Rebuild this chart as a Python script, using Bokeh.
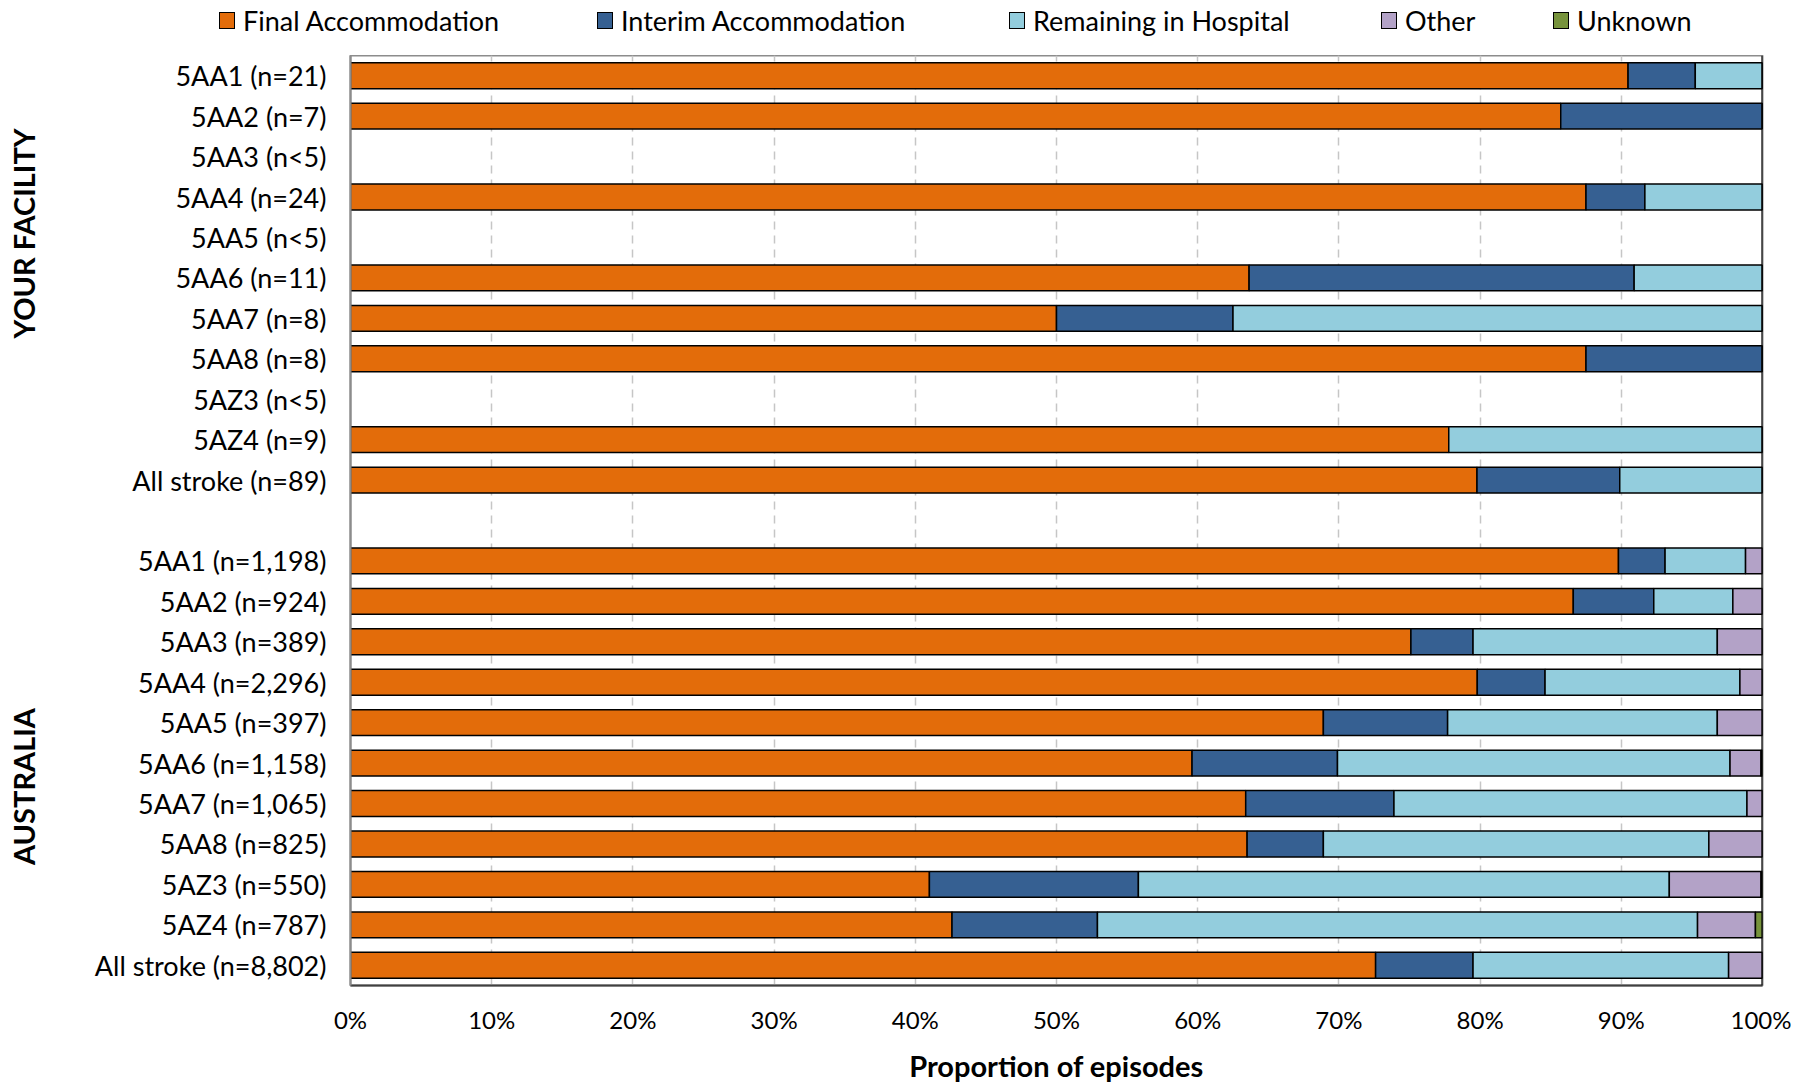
import math
from bokeh.plotting import figure
from bokeh.layouts import column
from bokeh.models import ColumnDataSource, Range1d, FixedTicker, Span, LinearAxis, Div
from bokeh.embed import file_html
from bokeh.resources import INLINE

NaN = float("nan")

# Rows, top to bottom (" " row is the gap between groups)
categories = [
    "5AA1 (n=21)", "5AA2 (n=7)", "5AA3 (n<5)", "5AA4 (n=24)", "5AA5 (n<5)",
    "5AA6 (n=11)", "5AA7 (n=8)", "5AA8 (n=8)", "5AZ3 (n<5)", "5AZ4 (n=9)",
    "All stroke (n=89)",
    " ",
    "5AA1 (n=1,198)", "5AA2 (n=924)", "5AA3 (n=389)", "5AA4 (n=2,296)",
    "5AA5 (n=397)", "5AA6 (n=1,158)", "5AA7 (n=1,065)", "5AA8 (n=825)",
    "5AZ3 (n=550)", "5AZ4 (n=787)", "All stroke (n=8,802)",
]

final_accommodation = [90.48, 85.71, NaN, 87.50, NaN, 63.64, 50.00, 87.50, NaN, 77.78, 79.78,
                       NaN,
                       89.8, 86.6, 75.1, 79.8, 68.9, 59.6, 63.4, 63.5, 41.0, 42.6, 72.6]
interim_accommodation = [4.76, 14.29, NaN, 4.17, NaN, 27.27, 12.50, 12.50, NaN, 0.0, 10.11,
                         NaN,
                         3.3, 5.7, 4.4, 4.8, 8.8, 10.3, 10.5, 5.4, 14.8, 10.3, 6.9]
remaining_in_hospital = [4.76, 0.0, NaN, 8.33, NaN, 9.09, 37.50, 0.0, NaN, 22.22, 10.11,
                         NaN,
                         5.7, 5.6, 17.3, 13.8, 19.1, 27.8, 25.0, 27.3, 37.6, 42.5, 18.1]
other = [0.0, 0.0, NaN, 0.0, NaN, 0.0, 0.0, 0.0, NaN, 0.0, 0.0,
         NaN,
         1.2, 2.1, 3.2, 1.6, 3.2, 2.2, 1.1, 3.8, 6.5, 4.1, 2.4]
unknown = [0.0, 0.0, NaN, 0.0, NaN, 0.0, 0.0, 0.0, NaN, 0.0, 0.0,
           NaN,
           0.0, 0.0, 0.0, 0.0, 0.0, 0.1, 0.0, 0.0, 0.1, 0.5, 0.0]

series_labels = ["Final Accommodation", "Interim Accommodation", "Remaining in Hospital", "Other", "Unknown"]
series_colors = ["#E36C0A", "#366092", "#93CDDD", "#B3A2C7", "#77933C"]

x_ticks = [0, 10, 20, 30, 40, 50, 60, 70, 80, 90, 100]
x_tick_labels = ["0%", "10%", "20%", "30%", "40%", "50%", "60%", "70%", "80%", "90%", "100%"]

group_labels = ["YOUR FACILITY", "AUSTRALIA"]
group_positions = [18.6, 4.92]   # centre of each group label, in row units from the bottom

# layout of the legend strip (left edge of each legend key, in pixels)
legend_key_left = [219, 597, 1009, 1381, 1553]

FONT = "Lato"
W = 1791
LEGEND_H = 55
MAIN_H = 1031

n_rows = len(categories)
row_pos = [n_rows - i - 0.5 for i in range(n_rows)]   # row slots, top to bottom

keys = ["final", "interim", "remaining", "other", "unknown"]
source = ColumnDataSource(data=dict(
    y=row_pos,
    final=final_accommodation,
    interim=interim_accommodation,
    remaining=remaining_in_hospital,
    other=other,
    unknown=unknown,
))

# ---------------- legend strip (HTML) ----------------
parts = []
for lbl, col, xl in zip(series_labels, series_colors, legend_key_left):
    parts.append(
        f'<span style="position:absolute;left:{xl}px;top:12px;width:16px;height:17px;'
        f'background:{col};border:1.5px solid black;box-sizing:border-box;"></span>'
        f'<span style="position:absolute;left:{xl + 24}px;top:4px;line-height:33px;'
        f'white-space:nowrap;">{lbl}</span>'
    )
legend_html = (f'<div style="position:relative;width:{W}px;height:{LEGEND_H}px;'
               f'font-family:{FONT};font-size:27px;color:black;">' + "".join(parts) + "</div>")
legend_div = Div(text=legend_html, width=W, height=LEGEND_H, margin=0)

# ---------------- main chart ----------------
p = figure(
    width=W, height=MAIN_H,
    y_range=Range1d(0, n_rows),
    x_range=Range1d(0, 100),
    output_backend="svg", toolbar_location=None,
    min_border_left=350, min_border_right=29, min_border_top=0, min_border_bottom=101,
)

p.hbar_stack(keys, y="y", height=0.64, source=source, color=series_colors,
             line_color="black", line_width=1.5)

p.add_layout(Span(location=100, dimension="height", line_color="black", line_width=2))

p.outline_line_color = "#8c8c8c"
p.outline_line_width = 2

# grid
p.xgrid.grid_line_color = "#c6c6c6"
p.xgrid.grid_line_dash = "8 6"
p.xgrid.grid_line_width = 1.5
p.ygrid.grid_line_color = None

# x axis
p.xaxis.ticker = FixedTicker(ticks=x_ticks)
p.xaxis.major_label_overrides = {t: l for t, l in zip(x_ticks, x_tick_labels)}
p.xaxis.major_tick_line_color = None
p.xaxis.major_tick_out = 0
p.xaxis.major_tick_in = 0
p.xaxis.minor_tick_line_color = None
p.xaxis.axis_line_color = "#404040"
p.xaxis.axis_line_width = 2
p.xaxis.major_label_text_font = FONT
p.xaxis.major_label_text_font_size = "24px"
p.xaxis.major_label_text_color = "black"
p.xaxis.major_label_standoff = 19
p.xaxis.axis_label = "Proportion of episodes"
p.xaxis.axis_label_text_font = FONT
p.xaxis.axis_label_text_font_style = "bold"
p.xaxis.axis_label_text_font_size = "29px"
p.xaxis.axis_label_text_color = "black"
p.xaxis.axis_label_standoff = 11

# y axis (row labels)
label_ticks = [pos for pos, c in zip(row_pos, categories) if c.strip()]
p.yaxis.ticker = FixedTicker(ticks=label_ticks)
p.yaxis.major_label_overrides = {pos: c for pos, c in zip(row_pos, categories) if c.strip()}
p.yaxis.major_tick_line_color = None
p.yaxis.major_tick_out = 0
p.yaxis.major_tick_in = 0
p.yaxis.minor_tick_line_color = None
p.yaxis.axis_line_color = "#8c8c8c"
p.yaxis.axis_line_width = 2
p.yaxis.major_label_text_font = FONT
p.yaxis.major_label_text_font_size = "27px"
p.yaxis.major_label_text_color = "black"
p.yaxis.major_label_standoff = 24

# group labels as an outer left axis
gaxis = LinearAxis(ticker=FixedTicker(ticks=group_positions),
                   major_label_overrides={v: t for v, t in zip(group_positions, group_labels)},
                   major_label_orientation="vertical")
gaxis.axis_line_color = None
gaxis.major_tick_line_color = None
gaxis.minor_tick_line_color = None
gaxis.major_tick_out = 0
gaxis.major_tick_in = 0
gaxis.major_label_text_font = FONT
gaxis.major_label_text_font_style = "bold"
gaxis.major_label_text_font_size = "29px"
gaxis.major_label_text_color = "black"
gaxis.major_label_standoff = 50
p.add_layout(gaxis, "left")

layout = column(legend_div, p, spacing=0)
open("out.html", "w").write(file_html(layout, INLINE))
